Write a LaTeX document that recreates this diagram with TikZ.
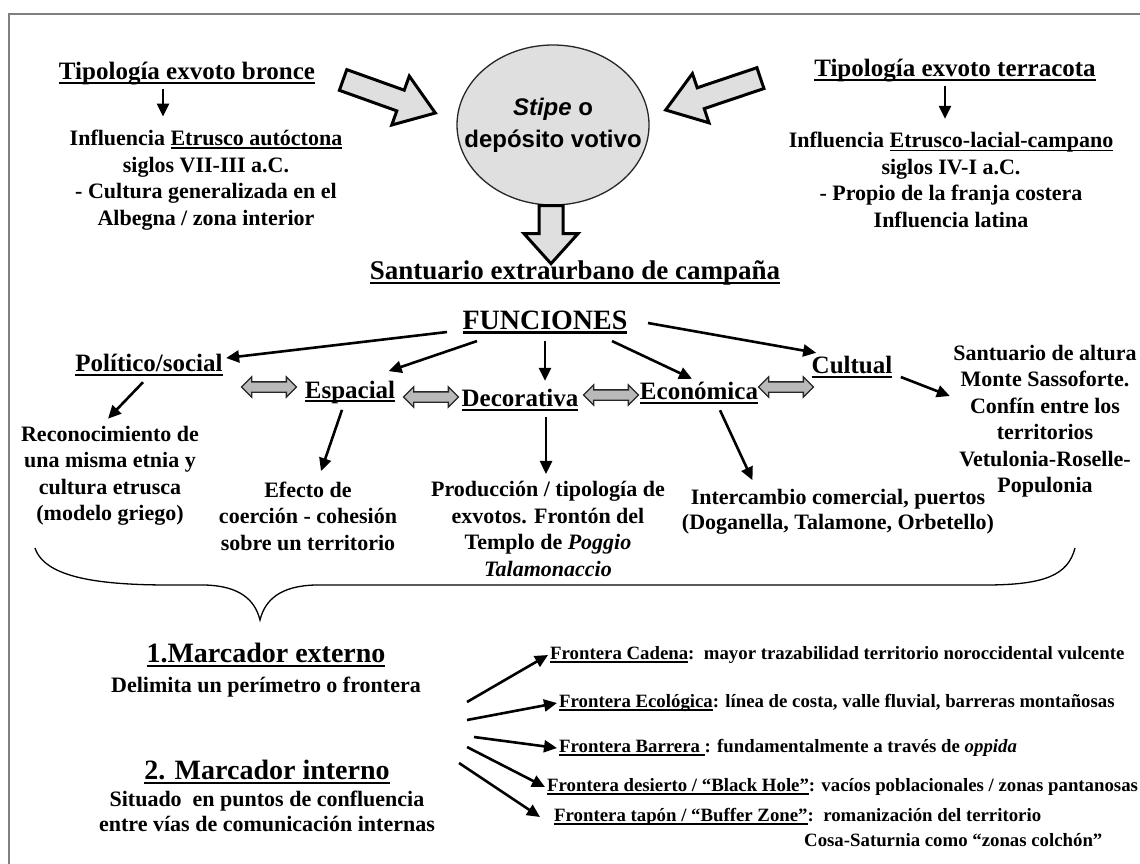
\documentclass[tikz,border=0pt]{standalone}
\usepackage{fontspec}
\setmainfont{Liberation Serif}
\setsansfont{Liberation Sans}
\usetikzlibrary{arrows.meta,shapes.geometric,shapes.arrows,positioning}
\newsavebox\cajasub
\newcommand\subrayar[1]{\sbox\cajasub{#1}\leavevmode\rlap{\rule[-0.16em]{\wd\cajasub}{0.075em}}\usebox\cajasub}

\begin{document}
\begin{tikzpicture}[x=1pt,y=-1pt,
  titulo/.style={font=\bfseries\fontsize{25}{28}\selectfont},
  texto/.style={font=\bfseries\fontsize{22}{26.5}\selectfont, align=center},
  marca/.style={font=\bfseries\fontsize{28}{32}\selectfont},
  frt/.style={font=\bfseries\fontsize{18.8}{22}\selectfont, anchor=west, inner sep=2pt},
  flecha/.style={line width=2.6pt, -{Triangle[length=13pt,width=12pt]}},
  bloque/.style={draw, line width=3pt, line join=miter, fill=gray!25},
  doble/.style={double arrow, draw=gray!30!black, line width=1.3pt, fill=gray!55, inner sep=0pt,
    inner ysep=4.5pt, double arrow head extend=5pt, minimum height=55pt}]
  \useasboundingbox (0,0) rectangle (1140,863);
  \draw[gray, line width=2.5pt] (9,870) -- (9,14) -- (1150,14);

  \node[titulo] (brz) at (187,74) {\subrayar{Tipología exvoto bronce}};
  \node[texto] (brztxt) at (206,180) {Influencia \subrayar{Etrusco autóctona}\\siglos VII-III a.C.\\- Cultura generalizada en el\\Albegna / zona interior};
  \node[titulo] (ter) at (955,71) {\subrayar{Tipología exvoto terracota}};
  \node[texto] (tertxt) at (951,180) {Influencia \subrayar{Etrusco-lacial-campano}\\siglos IV-I a.C.\\- Propio de la franja costera\\Influencia latina};
  \draw[flecha, shorten >=10pt] ([xshift=-24pt]brz.south) -- ([xshift=-43pt]brztxt.north);
  \draw[flecha, shorten >=10pt] ([xshift=-10pt]ter.south) -- ([xshift=-6pt]tertxt.north);

  \node[ellipse, draw=black!85, line width=1.3pt, fill=gray!25, minimum width=192pt, minimum height=160pt,
    inner xsep=-25pt, inner ysep=0pt, align=center, font=\sffamily\bfseries\fontsize{24}{28}\selectfont]
    (stipe) at (553,125) {\textit{Stipe} o\\[4pt]depósito votivo};
  \draw[bloque, shift={([shift={(-21,-12)}]stipe.west)}, rotate=-19.7]
    (0,0) -- (-37,26) -- (-37,11) -- (-98,11) -- (-98,-11) -- (-37,-11) -- (-37,-26) -- cycle;
  \draw[bloque, shift={([shift={(16,-15)}]stipe.east)}, rotate=-161.4]
    (0,0) -- (-37,26) -- (-37,11) -- (-100,11) -- (-100,-11) -- (-37,-11) -- (-37,-26) -- cycle;
  \draw[bloque, shift={([shift={(-2,58)}]stipe.south)}, rotate=-90]
    (0,0) -- (-30,27) -- (-30,12) -- (-58,12) -- (-58,-12) -- (-30,-12) -- (-30,-27) -- cycle;

  \node[font=\bfseries\fontsize{27}{30}\selectfont] (sant) at (575,273) {\subrayar{Santuario extraurbano de campaña}};
  \node[font=\bfseries\fontsize{28}{30}\selectfont] (fun) at (545,322) {\subrayar{FUNCIONES}};

  \node[titulo] (pol) at (149,365) {\subrayar{Político/social}};
  \node[titulo] (esp) at (350,392) {\subrayar{Espacial}};
  \node[titulo] (dec) at (520,400) {\subrayar{Decorativa}};
  \node[titulo] (eco) at (699,393) {\subrayar{Económica}};
  \node[titulo] (cul) at (852,367) {\subrayar{Cultual}};
  \node[doble] (d1) at (269,387) {};
  \node[doble] (d2) at (431,397) {};
  \node[doble] (d3) at (611,395) {};
  \node[doble] (d4) at (786,387) {};
  \draw[flecha] ([shift={(-12,10)}]fun.west) -- ([shift={(0,-7)}]pol.east);
  \draw[flecha] ([shift={(18,4)}]fun.south west) -- ([shift={(-10,-6)}]esp.north east);
  \draw[flecha] ([shift={(0,4)}]fun.south) -- ([shift={(25,-5)}]dec.north);
  \draw[flecha] ([shift={(-19,4)}]fun.south east) -- ([shift={(-7,0)}]eco.north);
  \draw[flecha] ([shift={(17,1)}]fun.east) -- ([shift={(8,0)}]cul.north west);

  \node[texto] (poltxt) at (110,476) {Reconocimiento de\\una misma etnia y\\cultura etrusca\\(modelo griego)};
  \node[texto] (esptxt) at (308,516) {Efecto de\\coerción - cohesión\\sobre un territorio};
  \node[texto] (dectxt) at (548,529) {Producción / tipología de\\exvotos. Frontón del\\Templo de \textit{Poggio}\\\textit{Talamonaccio}};
  \node[texto, font=\bfseries\fontsize{22}{24.5}\selectfont] (ecotxt) at (838,512) {Intercambio comercial, puertos\\(Doganella, Talamone, Orbetello)};
  \node[texto] (cultxt) at (1045,421) {Santuario de altura\\Monte Sassoforte.\\Confín entre los\\territorios\\Vetulonia-Roselle-\\Populonia};
  \draw[flecha] ([shift={(-6,3)}]pol.south) -- ([shift={(-2,-4)}]poltxt.north);
  \draw[flecha] ([shift={(-8,3)}]esp.south) -- ([shift={(13,-7)}]esptxt.north);
  \draw[flecha] ([shift={(26,3)}]dec.south) -- ([shift={(-2,-4)}]dectxt.north);
  \draw[flecha] ([shift={(21,3)}]eco.south) -- ([shift={(74,-6)}]ecotxt.north west);
  \draw[flecha] ([shift={(5,10)}]cul.east) -- ([shift={(0,-25)}]cultxt.west);

  \draw[line width=1.3pt] (35,548) .. controls (45,578) and (100,585) .. (170,585) -- (205,585)
    .. controls (240,586) and (255,600) .. (260,620) .. controls (265,600) and (280,586) .. (315,585)
    -- (985,585) .. controls (1045,585) and (1068,575) .. (1075,548);

  \node[marca] (mext) at (266,655) {\subrayar{1.Marcador externo}};
  \node[texto, below=3pt of mext] (mextd) {Delimita un perímetro o frontera};
  \node[marca] (mint) at (267,772) {\subrayar{2. Marcador interno}};
  \node[texto, font=\bfseries\fontsize{22}{25}\selectfont, below=0pt of mint] (mintd) {Situado\ \ en puntos de confluencia\\entre vías de comunicación internas};

  \node[frt] (fr1) at (548,655) {\subrayar{Frontera Cadena}:\ \ mayor trazabilidad territorio noroccidental vulcente};
  \node[frt] (fr2) at (557,703) {\subrayar{Frontera Ecológica}: línea de costa, valle fluvial, barreras montañosas};
  \node[frt] (fr3) at (557,748) {\subrayar{Frontera Barrera\ }: fundamentalmente a través de \textit{oppida}};
  \node[frt] (fr4) at (545,787) {\subrayar{Frontera desierto / “Black Hole”}: vacíos poblacionales / zonas pantanosas};
  \node[frt] (fr5) at (552,817) {\subrayar{Frontera tapón / “Buffer Zone”}:\ \ romanización del territorio};
  \node[frt] (fr6) at (802,840) {Cosa-Saturnia como “zonas colchón”};
  \coordinate (o1) at (467,702);
  \coordinate (o2) at (467,720);
  \coordinate (o3) at (474,737);
  \coordinate (o4) at (467,747);
  \coordinate (o5) at (459,763);
  \draw[flecha] (o1) -- (fr1.west);
  \draw[flecha] (o2) -- (fr2.west);
  \draw[flecha] (o3) -- (fr3.west);
  \draw[flecha] (o4) -- (fr4.west);
  \draw[flecha] (o5) -- ([shift={(-12,0)}]fr5.west);
\end{tikzpicture}
\end{document}
